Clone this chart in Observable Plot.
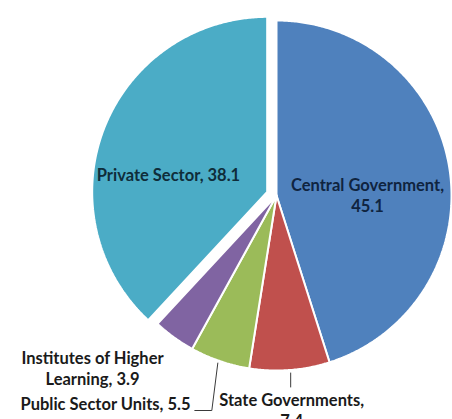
<!DOCTYPE html>
<html>
<head>
<meta charset="utf-8">
<script src="https://cdn.jsdelivr.net/npm/d3@7"></script>
<script src="https://cdn.jsdelivr.net/npm/@observablehq/plot@0.6"></script>
<style>
  html, body { margin: 0; padding: 0; background: #fff; overflow: hidden; }
</style>
</head>
<body>
<div id="chart"></div>
<script>
// ---- data ----
const categories = ["Central Government", "State Governments", "Public Sector Units", "Institutes of Higher Learning", "Private Sector"];
const values = [45.1, 7.4, 5.5, 3.9, 38.1];
const labelTexts = ["Central Government,\n45.1", "State Governments,\n7.4", "Public Sector Units, 5.5", "Institutes of Higher\nLearning, 3.9", "Private Sector, 38.1"];
const colors = ["#4F81BD", "#C0504D", "#9BBB59", "#8064A2", "#4BACC6"];
const explode = [0, 0, 0, 0, 10];

// ---- layout ----
const W = 452, H = 419;
const cx = 276, cy = 195, R = 175;

const arcs = d3.pie().sort(null).value(d => d)(values);

const slices = [];
const centers = [];
arcs.forEach((a, i) => {
  const mid = (a.startAngle + a.endAngle) / 2;
  const ox = cx + explode[i] * Math.sin(mid);
  const oy = cy - explode[i] * Math.cos(mid);
  centers.push({ox, oy, mid});
  const n = Math.max(4, Math.ceil((a.endAngle - a.startAngle) / (Math.PI / 360)));
  slices.push({cat: categories[i], x: ox, y: oy});
  for (let k = 0; k <= n; k++) {
    const t = a.startAngle + (a.endAngle - a.startAngle) * k / n;
    slices.push({cat: categories[i], x: ox + R * Math.sin(t), y: oy - R * Math.cos(t)});
  }
  slices.push({cat: categories[i], x: ox, y: oy});
});

// inside labels: polar offsets (radius fraction, angle tweak in degrees) from each slice's centre
const labelPolar = [
  {r: 0.52, dA: 8.5, color: "#0f2440"},
  {r: 1.2, dA: 0, color: "#1a1a1a"},
  {r: 1.2, dA: 0, color: "#1a1a1a"},
  {r: 1.2, dA: 0, color: "#1a1a1a"},
  {r: 0.573, dA: -11.4, color: "#0f2d3a"}
];
const labelPos = [];
arcs.forEach((a, i) => {
  const c = centers[i];
  const ang = c.mid + labelPolar[i].dA * Math.PI / 180;
  labelPos.push({text: labelTexts[i], x: c.ox + labelPolar[i].r * R * Math.sin(ang), y: c.oy - labelPolar[i].r * R * Math.cos(ang), color: labelPolar[i].color});
});
// outside labels (placed below the pie, as in the original)
const sg = arcs[1], psu = arcs[2];
const sgMid = (sg.startAngle + sg.endAngle) / 2;
const psuMid = (psu.startAngle + psu.endAngle) / 2;
const sgEdge = {x: cx + R * Math.sin(sgMid), y: cy - R * Math.cos(sgMid)};
const psuEdge = {x: cx + R * Math.sin(psuMid), y: cy - R * Math.cos(psuMid)};
labelPos[1].x = sgEdge.x + 2; labelPos[1].y = cy + R + 39;
labelPos[2].x = 105; labelPos[2].y = cy + R + 33;
labelPos[3].x = 92; labelPos[3].y = cy + R - 3;

const leaders = [
  {id: "sg", x: sgEdge.x + 1, y: sgEdge.y + 3},
  {id: "sg", x: sgEdge.x + 1, y: sgEdge.y + 17},
  {id: "psu", x: psuEdge.x - 2, y: psuEdge.y + 2},
  {id: "psu", x: psuEdge.x - 8, y: cy + R + 40},
  {id: "psu", x: psuEdge.x - 25, y: cy + R + 40}
];

const chart = Plot.plot({
  width: W,
  height: H,
  margin: 0,
  x: {domain: [0, W], range: [0, W], axis: null},
  y: {domain: [0, H], range: [0, H], axis: null},
  color: {domain: categories, range: colors},
  style: {background: "#fff", overflow: "visible"},
  marks: [
    Plot.line(slices, {x: "x", y: "y", z: "cat", fill: "cat", stroke: "white", strokeWidth: 2, strokeLinejoin: "miter", curve: "linear"}),
    Plot.line(leaders, {x: "x", y: "y", z: "id", stroke: "#3a3a3a", strokeWidth: 1}),
    Plot.text(labelPos, {x: "x", y: "y", text: "text", fill: "color", fontFamily: "Lato, 'Open Sans', sans-serif", fontWeight: "bold", fontSize: 16.5, lineHeight: 1.27})
  ]
});
document.getElementById("chart").append(chart);
</script>
</body>
</html>
